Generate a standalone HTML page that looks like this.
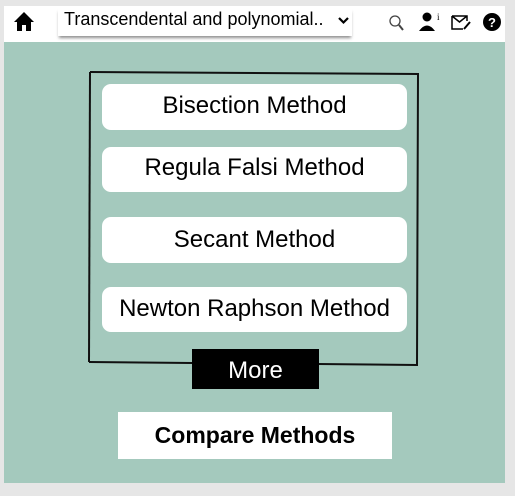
<!DOCTYPE html>
<html><head><style>
body{margin:0;width:515px;height:496px;background:#e6e6e6;position:relative;overflow:hidden;font-family:"Liberation Sans",Arial,sans-serif}
.a{position:absolute}
.btn{position:absolute;left:102px;width:305px;background:#fff;border-radius:9px;text-align:center;font-size:24px;color:#000}
</style></head><body>
<div class="a" style="left:4px;top:6px;width:501px;height:36px;background:#fff"></div>
<div class="a" style="left:4px;top:42px;width:501px;height:441px;background:#a4c9bd"></div>
<div class="a" style="left:58px;top:8px;width:294px;height:28px;background:#fff;box-shadow:0 3px 3px -1px rgba(0,0,0,.45)"></div>
<div class="a" style="left:64px;top:9px;font-size:18px;color:#000">Transcendental and polynomial..</div>
<svg class="a" style="left:0;top:0" width="515" height="496">
<path d="M14 22 L24 12 L34 22 L31 22 L31 31 L26 31 L26 25 L22 25 L22 31 L17 31 L17 22 Z" fill="#000"/>
<path d="M339 18 l4.5 4.5 l4.5 -4.5" stroke="#000" stroke-width="2.2" fill="none"/>
<circle cx="395" cy="21" r="5" stroke="#444" stroke-width="1.3" fill="none"/><line x1="399" y1="25" x2="403" y2="30" stroke="#444" stroke-width="2"/>
<circle cx="427" cy="17" r="4.5" fill="#000"/><path d="M419 31 Q427 20 435 31 Z" fill="#000"/><text x="437" y="20" font-size="9" font-family="Liberation Serif">i</text>
<path d="M452 16 h15 v5 M452 16 v13 h11 M452 16 l7.5 6 l7.5 -6" stroke="#000" stroke-width="1.5" fill="none"/><path d="M464 29 l6 -7" stroke="#000" stroke-width="2"/>
<circle cx="492" cy="22" r="9" fill="#000"/><text x="492" y="27" font-size="13" font-weight="bold" fill="#fff" text-anchor="middle">?</text>
<path d="M90 72 L418 74 L417 365 L318 364 M192 363 L89 362 Z" stroke="#111" stroke-width="2" fill="none"/>
<line x1="90" y1="72" x2="89" y2="362" stroke="#111" stroke-width="2"/>
</svg>
<div class="btn" style="top:84px;height:46px;line-height:43px">Bisection Method</div>
<div class="btn" style="top:147px;height:45px;line-height:41px">Regula Falsi Method</div>
<div class="btn" style="top:217px;height:46px;line-height:46px">Secant Method</div>
<div class="btn" style="top:287px;height:45px;line-height:44px">Newton Raphson Method</div>
<div class="a" style="left:192px;top:349px;width:127px;height:40px;background:#000;color:#fff;font-size:24px;text-align:center;line-height:44px">More</div>
<div class="a" style="left:118px;top:412px;width:274px;height:47px;background:#fff;font-size:23px;font-weight:bold;text-align:center;line-height:47px">Compare Methods</div>
</body></html>
